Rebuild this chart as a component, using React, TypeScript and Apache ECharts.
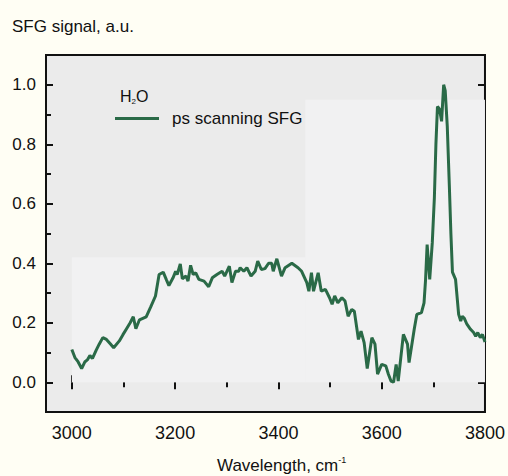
import React, { useEffect, useRef } from "react";
import * as echarts from "echarts";

const wavenumber = [
  3000, 3006, 3012, 3019, 3025, 3030, 3035, 3040, 3047, 3053, 3060, 3067, 3074, 3081, 3092, 3099,
  3106, 3113, 3119, 3124, 3131, 3144, 3153, 3162, 3169, 3177, 3183, 3188, 3196, 3201, 3204, 3210,
  3214, 3221, 3225, 3230, 3235, 3240, 3246, 3256, 3265, 3272, 3281, 3291, 3296, 3305, 3310, 3317,
  3323, 3326, 3333, 3339, 3347, 3355, 3360, 3367, 3374, 3381, 3387, 3390, 3397, 3406, 3413, 3426,
  3438, 3445, 3455, 3459, 3464, 3468, 3477, 3483, 3491, 3499, 3504, 3509, 3515, 3523, 3529, 3535,
  3542, 3547, 3555, 3560, 3566, 3572, 3581, 3587, 3592, 3600, 3608, 3613, 3618, 3623, 3628, 3632,
  3642, 3650, 3653, 3663, 3668, 3677, 3682, 3685, 3688, 3693, 3698, 3702, 3705, 3708, 3712, 3716,
  3720, 3723, 3727, 3731, 3734, 3737, 3743, 3749, 3753, 3756, 3760, 3765, 3772, 3778, 3782, 3786,
  3791, 3795, 3800,
];
const signal = [
  0.11, 0.083, 0.069, 0.046, 0.068, 0.075, 0.09, 0.08, 0.107, 0.128, 0.15, 0.144, 0.13, 0.116, 0.139, 0.16,
  0.18, 0.2, 0.22, 0.18, 0.21, 0.22, 0.254, 0.29, 0.362, 0.37, 0.345, 0.325, 0.351, 0.373, 0.362, 0.398,
  0.348, 0.357, 0.34, 0.393, 0.362, 0.368, 0.346, 0.34, 0.321, 0.351, 0.362, 0.373, 0.357, 0.39, 0.335, 0.373,
  0.373, 0.385, 0.373, 0.385, 0.357, 0.373, 0.407, 0.379, 0.382, 0.4, 0.4, 0.373, 0.415, 0.357, 0.385, 0.4,
  0.385, 0.373, 0.335, 0.306, 0.368, 0.306, 0.368, 0.306, 0.312, 0.284, 0.262, 0.29, 0.267, 0.284, 0.273, 0.222,
  0.245, 0.239, 0.144, 0.172, 0.133, 0.046, 0.15, 0.128, 0.027, 0.06, 0.055, 0.027, 0.004, 0.0, 0.06, 0.004,
  0.161, 0.128, 0.066, 0.178, 0.228, 0.234, 0.267, 0.346, 0.463, 0.346, 0.47, 0.62, 0.8, 0.927, 0.918, 0.877,
  1.0, 0.98, 0.86, 0.66, 0.5, 0.37, 0.346, 0.228, 0.206, 0.222, 0.215, 0.195, 0.178, 0.167, 0.155, 0.167,
  0.15, 0.161, 0.135,
];

const xLabelValues = [3000, 3200, 3400, 3600, 3800];
const xMinorTickValues = [3100, 3300, 3500, 3700];
const yLabelValues = [0, 0.2, 0.4, 0.6, 0.8, 1.0];
const yMinorTickValues = [0.1, 0.3, 0.5, 0.7, 0.9];

const seriesName = "ps scanning SFG";
const yTitle = "SFG signal, a.u.";
const xTitle = "Wavelength, cm";
const xTitleSup = "-1";

const FONT = "'Liberation Sans', Arial, Helvetica, sans-serif";
const INK = "#111111";
const GREEN = "#2a6a47";

export default function App() {
  const ref = useRef<HTMLDivElement>(null);

  useEffect(() => {
    if (!ref.current) return;
    const chart = echarts.init(ref.current, undefined, { renderer: "svg" });
    const X_MIN = 2950, X_MAX = 3800, Y_MIN = -0.1, Y_MAX = 1.1;

    const tickAxisX = (position: "top" | "bottom", values: number[], len: number, labels: boolean) => ({
      type: "value",
      gridIndex: 0,
      position,
      min: X_MIN,
      max: X_MAX,
      axisLine: { show: false },
      splitLine: { show: false },
      axisTick: { show: true, inside: true, length: len, customValues: values, lineStyle: { color: INK, width: 2 } },
      axisLabel: labels
        ? {
            show: true,
            customValues: xLabelValues,
            margin: 12,
            fontSize: 18,
            color: INK,
            fontFamily: FONT,
            formatter: (v: number) => String(Math.round(v)),
          }
        : { show: false },
    });
    const tickAxisY = (position: "left" | "right", values: number[], len: number, labels: boolean) => ({
      type: "value",
      gridIndex: 0,
      position,
      min: Y_MIN,
      max: Y_MAX,
      axisLine: { show: false },
      splitLine: { show: false },
      axisTick: { show: true, inside: true, length: len, customValues: values, lineStyle: { color: INK, width: 2 } },
      axisLabel: labels
        ? {
            show: true,
            customValues: yLabelValues,
            margin: 10,
            fontSize: 17,
            color: INK,
            fontFamily: FONT,
            formatter: (v: number) => v.toFixed(1),
          }
        : { show: false },
    });

    chart.setOption({
      animation: false,
      backgroundColor: "#fffef4",
      grid: {
        left: 46,
        right: 19,
        top: 55,
        bottom: 64,
        show: true,
        backgroundColor: "#ebebeb",
        borderColor: INK,
        borderWidth: 2,
      },
      legend: {
        show: true,
        left: 115,
        top: 110,
        padding: 0,
        itemWidth: 44,
        itemHeight: 3,
        icon: "rect",
        data: [{ name: seriesName, itemStyle: { color: GREEN } }],
        textStyle: { fontSize: 17, color: INK, fontFamily: FONT, padding: [0, 0, 0, 8] },
      },
      xAxis: [
        tickAxisX("bottom", xLabelValues, 7, true),
        tickAxisX("bottom", xMinorTickValues, 5, false),
        tickAxisX("top", xLabelValues, 7, false),
        tickAxisX("top", xMinorTickValues, 5, false),
      ],
      yAxis: [
        tickAxisY("left", yLabelValues, 7, true),
        tickAxisY("left", yMinorTickValues, 5, false),
        tickAxisY("right", yLabelValues, 7, false),
        tickAxisY("right", yMinorTickValues, 5, false),
      ],
      series: [
        {
          name: seriesName,
          type: "line",
          xAxisIndex: 0,
          yAxisIndex: 0,
          data: wavenumber.map((w, i) => [w, signal[i]]),
          symbol: "none",
          lineStyle: { color: GREEN, width: 3 },
          itemStyle: { color: GREEN },
          markArea: {
            silent: true,
            itemStyle: { color: "#f1f1f2" },
            data: [
              [{ coord: [3000, 0] }, { coord: [3452, 0.42] }],
              [{ coord: [3452, 0] }, { coord: [3800, 0.95] }],
            ],
          },
        },
      ],
      graphic: [
        {
          type: "text",
          left: 12,
          top: 18,
          style: { text: yTitle, fontSize: 17, fill: INK, fontFamily: FONT },
        },
        {
          type: "text",
          left: 120,
          top: 88,
          style: {
            text: "{a|H}{s|2}{a|O}",
            fontFamily: FONT,
            fill: INK,
            rich: {
              a: { fontSize: 16, lineHeight: 18, fontFamily: FONT, fill: INK },
              s: { fontSize: 8, lineHeight: 16, fontFamily: FONT, fill: INK, verticalAlign: "bottom" },
            },
          },
        },
        {
          type: "text",
          left: 217,
          top: 455,
          style: {
            text: `{a|${xTitle}}{b|${xTitleSup}}`,
            fontFamily: FONT,
            fill: INK,
            rich: {
              a: { fontSize: 17, lineHeight: 20, fontFamily: FONT, fill: INK },
              b: { fontSize: 9, lineHeight: 20, fontFamily: FONT, fill: INK, verticalAlign: "top" },
            },
          },
        },
      ],
    });

    return () => chart.dispose();
  }, []);

  return (
    <div
      ref={ref}
      style={{ position: "fixed", left: 0, top: 0, width: 508, height: 476, background: "#fffef4" }}
    />
  );
}
